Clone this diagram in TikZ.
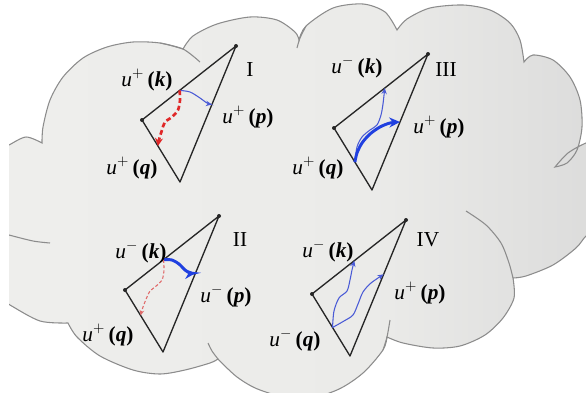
\documentclass[tikz,border=0pt]{standalone}
\usepackage{fontspec}
\setmainfont{Liberation Serif}
\usetikzlibrary{arrows.meta,calc}
\definecolor{cloudA}{HTML}{F1F1EF}
\definecolor{cloudM}{HTML}{EBEBE9}
\definecolor{cloudD}{HTML}{D6D6D6}
\definecolor{cloudE}{HTML}{B8B8B8}
\definecolor{cloudline}{HTML}{8C8C8C}
\definecolor{blueA}{HTML}{4A5BD6}
\definecolor{blueB}{HTML}{2040E0}
\definecolor{redA}{HTML}{E02828}
\definecolor{redB}{HTML}{E06A6A}
\pgfdeclarehorizontalshading{cloudshade}{100bp}{color(0bp)=(cloudA); color(55bp)=(cloudM); color(80bp)=(cloudD); color(100bp)=(cloudE)}
\newcommand{\ulab}[2]{\textit{u}$^{#1}$\,\textbf{(\textit{#2})}}
\begin{document}
\begin{tikzpicture}[x=0.75pt, y=-0.75pt, >=Stealth,
  tri/.style={draw=black!85, line width=1pt, line join=round},
  lab/.style={font=\fontsize{16}{19}\selectfont, inner sep=0pt},
  rim/.style={draw=cloudline, line width=0.8pt},
  wthin/.style={draw=blueA, line width=0.8pt, -{Stealth[length=4.5pt,width=4pt]}},
  wthick/.style={draw=blueB, line width=2.2pt, -{Stealth[length=8pt,width=7.5pt]}},
  rthick/.style={draw=redA, line width=2pt, dash pattern=on 3.6pt off 2.2pt, -{Stealth[length=6pt,width=6pt]}},
  rthin/.style={draw=redB, line width=0.8pt, dash pattern=on 2.4pt off 1.6pt, -{Stealth[length=4pt,width=3.5pt]}}]
\useasboundingbox (0,0) rectangle (586,393);
\begin{scope}
\clip (9,0) rectangle (586,393);
\shadedraw[shading=cloudshade, rim]
  plot[smooth] coordinates {(0,150) (9,145) (26,137) (42,143)}
  -- plot[smooth] coordinates {(42,143) (43,127) (50,100) (63,77) (83,58) (107,47) (133,42) (160,43) (183,49)}
  -- plot[smooth] coordinates {(183,49) (193,36) (217,24) (250,17) (277,20) (295,32) (299,40)}
  -- plot[smooth] coordinates {(299,40) (306,26) (333,8) (363,4) (385,12) (397,30)}
  -- plot[smooth] coordinates {(397,30) (407,19) (430,8) (463,5) (490,10) (510,23) (520,40) (524,62)}
  -- plot[smooth] coordinates {(524,62) (533,55) (553,60) (570,77) (580,100) (582,127) (577,150) (567,163) (555,167)}
  -- plot[smooth] coordinates {(555,167) (568,153) (586,143) (600,140)}
  -- (620,140) -- (620,226)
  -- plot[smooth] coordinates {(600,226) (586,236) (576,248) (553,265) (526,276) (513,278)}
  -- plot[smooth] coordinates {(513,278) (514,298) (503,318) (485,335) (460,346) (433,348) (403,343) (387,337)}
  -- plot[smooth] coordinates {(387,337) (383,350) (363,373) (337,390) (300,400) (260,390) (237,377) (218,359)}
  -- plot[smooth] coordinates {(218,359) (210,363) (185,370) (160,374) (133,370) (100,356) (77,337) (68,323)}
  -- plot[smooth] coordinates {(68,323) (40,321) (10,305) (0,298)}
  -- cycle;
\draw[rim] plot[smooth] coordinates {(9,235) (33,241) (50,243)};
\draw[rim] plot[smooth] coordinates {(160,43) (183,49) (200,62)};
\draw[rim] plot[smooth] coordinates {(297,48) (300,38) (306,26)};
\draw[rim] plot[smooth] coordinates {(208,343) (212,351) (218,359)};
\draw[rim] plot[smooth] coordinates {(383,350) (387,337) (390,320)};
\draw[rim] plot[smooth] coordinates {(466,211) (486,225) (501,243) (509,263) (513,278)};
\end{scope}
\foreach \n/\x/\y in {a/142/120, b/125/290, c/334/128, d/312/294} {
  \coordinate (L\n) at (\x,\y);
  \coordinate (T\n) at ($(L\n)+(94,-74)$);
  \coordinate (B\n) at ($(L\n)+(38,62)$);
  \draw[tri] (L\n) -- (T\n) -- (B\n) -- cycle;
  \fill[black!85] (T\n) circle (2) (L\n) circle (2);
}
\coordinate (ka) at ($(La)!0.40!(Ta)$);
\coordinate (pa) at ($(Ba)!0.57!(Ta)$);
\coordinate (qa) at ($(La)!0.42!(Ba)$);
\coordinate (kb) at ($(Lb)!0.41!(Tb)$);
\coordinate (pb) at ($(Bb)!0.58!(Tb)$);
\coordinate (qb) at ($(Lb)!0.41!(Bb)$);
\coordinate (kc) at ($(Lc)!0.54!(Tc)$);
\coordinate (pc) at ($(Bc)!0.50!(Tc)$);
\coordinate (qc) at ($(Lc)!0.55!(Bc)$);
\coordinate (kd) at ($(Ld)!0.45!(Td)$);
\coordinate (pd) at ($(Bd)!0.60!(Td)$);
\coordinate (qd) at ($(Ld)!0.54!(Bd)$);
\draw[wthin] plot[smooth] coordinates {(ka) (190,92) (200,98) (207,103) (pa)};
\draw[rthick] plot[smooth] coordinates {(ka) (180,100) (178,110) (172,117) (165,122) (162,130) (159,140) (qa)};
\draw[wthick] plot[smooth] coordinates {(kb) (172,260) (179,264) (185,270) (190,273) (pb)};
\draw[rthin] plot[smooth] coordinates {(kb) (164,270) (162,280) (155,287) (150,291) (147,297) (143,307) (qb)};
\draw[wthin] plot[smooth] coordinates {(qc) (357,147) (362,137) (370,130) (377,125) (381,115) (383,104) (kc)};
\draw[wthick] plot[smooth] coordinates {(qc) (357,153) (362,143) (370,134) (380,127) (390,123) (pc)};
\draw[wthin] plot[smooth] coordinates {(qd) (334,311) (339,298) (347,291) (350,280) (352,270) (kd)};
\draw[wthin] plot[smooth] coordinates {(qd) (344,321) (353,315) (358,304) (363,292) (371,283) (pd)};
\node[lab] (Ka) at (147,80) {\ulab{+}{k}};
\node[lab] (Na) at (250,70) {I};
\node[lab] (Pa) at (248,117) {\ulab{+}{p}};
\node[lab] (Qa) at (132,168) {\ulab{+}{q}};
\node[lab] (Kc) at (357,67) {\ulab{-}{k}};
\node[lab] (Nc) at (446,70) {III};
\node[lab] (Pc) at (439,127) {\ulab{+}{p}};
\node[lab] (Qc) at (318,168) {\ulab{+}{q}};
\node[lab] (Kb) at (141,252) {\ulab{-}{k}};
\node[lab] (Nb) at (240,240) {II};
\node[lab] (Pb) at (226,296) {\ulab{-}{p}};
\node[lab] (Qb) at (108,335) {\ulab{+}{q}};
\node[lab] (Kd) at (328,251) {\ulab{-}{k}};
\node[lab] (Nd) at (428,240) {IV};
\node[lab] (Pd) at (420,293) {\ulab{+}{p}};
\node[lab] (Qd) at (295,340) {\ulab{-}{q}};
\end{tikzpicture}
\end{document}
